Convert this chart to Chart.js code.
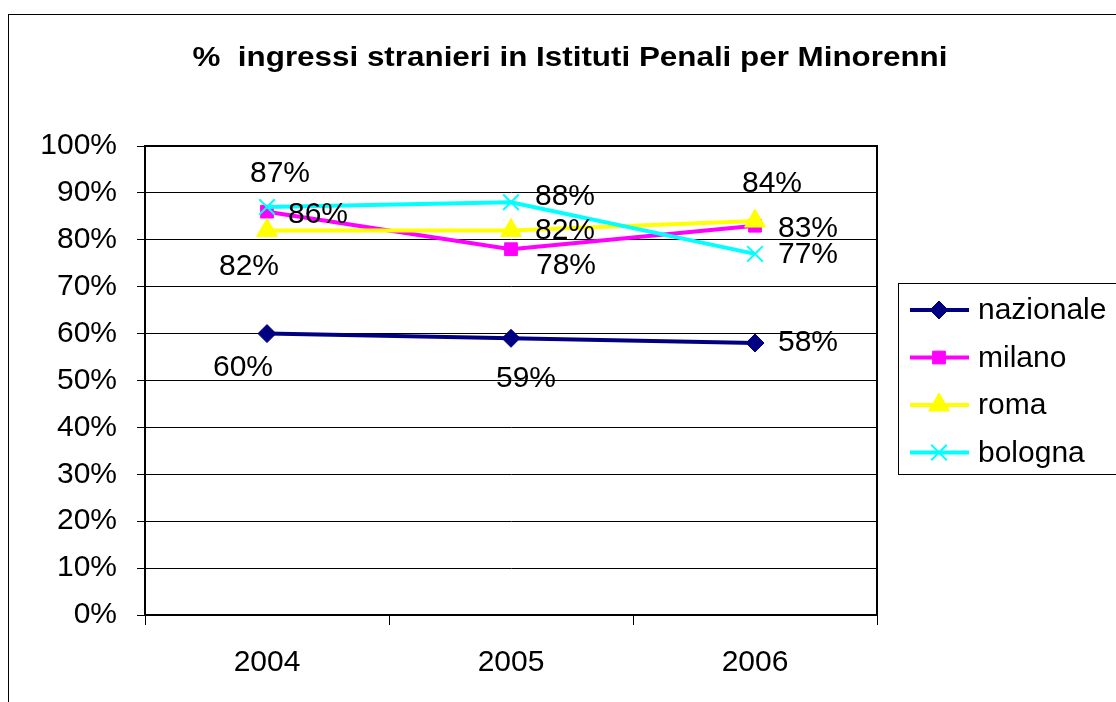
<!DOCTYPE html>
<html>
<head>
<meta charset="utf-8">
<script src="https://cdn.jsdelivr.net/npm/chart.js@4/dist/chart.umd.min.js"></script>
<style>
html, body { margin: 0; padding: 0; background: #fff; }
#wrap { width: 1116px; height: 702px; }
</style>
</head>
<body>
<div id="wrap"><canvas id="myChart" width="1116" height="702"></canvas></div>
<script>
// data
var years = ['2004', '2005', '2006'];
var nazionale = [60, 59, 58];
var milano = [86, 78, 83];
var roma = [82, 82, 84];
var bologna = [87, 88, 77];
var yTicks = [0, 10, 20, 30, 40, 50, 60, 70, 80, 90, 100];

var chartTitle = '%  ingressi stranieri in Istituti Penali per Minorenni';
var font = '"Liberation Sans", Arial, sans-serif';

// where each value label sits relative to its point (dx, dy in px)
var labelShift = {
  nazionale: [[-24, 34], [15, 40], [53, 0]],
  milano: [[51, 3], [55, 17], [53, 3]],
  roma: [[-18, 36], [54, 0], [17, -37]],
  bologna: [[13, -33], [54, -6], [53, 1]]
};

var series = [
  { label: 'nazionale', data: nazionale, color: '#000080', point: 'rectRot', r: 9, order: 4 },
  { label: 'milano', data: milano, color: '#FF00FF', point: 'rect', r: 9, order: 3 },
  { label: 'roma', data: roma, color: '#FFFF00', point: 'triangle', r: 12, order: 2 },
  { label: 'bologna', data: bologna, color: '#00FFFF', point: 'crossRot', r: 11, order: 1 }
];

var datasets = series.map(function (s) {
  return {
    label: s.label,
    data: s.data,
    borderColor: s.color,
    backgroundColor: s.color,
    borderWidth: 4,
    pointStyle: s.point,
    pointRadius: s.r,
    pointBorderWidth: s.point == 'crossRot' ? 2 : 1,
    pointBorderColor: s.color,
    pointBackgroundColor: s.color,
    tension: 0,
    order: s.order
  };
});

// frame, title, value labels and legend
var extras = {
  id: 'extras',
  beforeDraw: function (chart) {
    var ctx = chart.ctx;
    ctx.save();
    ctx.fillStyle = '#fff';
    ctx.fillRect(0, 0, chart.width, chart.height);
    ctx.strokeStyle = '#000';
    ctx.lineWidth = 1;
    ctx.strokeRect(8.5, 14.5, 1300, 900);
    ctx.restore();
  },
  afterDatasetsDraw: function (chart) {
    var ctx = chart.ctx;
    var a = chart.chartArea;
    ctx.save();
    ctx.strokeStyle = '#000';
    ctx.lineWidth = 2;
    ctx.strokeRect(a.left, a.top, a.right - a.left, a.bottom - a.top);

    // title is drawn a bit wider than normal, like the original
    ctx.font = 'bold 27px ' + font;
    ctx.fillStyle = '#000';
    ctx.textAlign = 'center';
    ctx.textBaseline = 'middle';
    var w = ctx.measureText(chartTitle).width;
    ctx.save();
    ctx.translate(570, 59);
    ctx.scale(755 / w, 1);
    ctx.fillText(chartTitle, 0, 0);
    ctx.restore();

    ctx.font = '30px ' + font;
    chart.data.datasets.forEach(function (ds, i) {
      var meta = chart.getDatasetMeta(i);
      var shift = labelShift[ds.label];
      meta.data.forEach(function (pt, j) {
        ctx.fillText(ds.data[j] + '%', pt.x + shift[j][0], pt.y + shift[j][1]);
      });
    });

    // legend
    var lx = 898, ly = 283, lh = 191;
    ctx.strokeStyle = '#000';
    ctx.lineWidth = 1;
    ctx.strokeRect(lx + 0.5, ly + 0.5, 400, lh);
    ctx.textAlign = 'left';
    ctx.font = '30px ' + font;
    series.forEach(function (s, i) {
      var y = 310 + i * 47.5;
      ctx.strokeStyle = s.color;
      ctx.lineWidth = 4;
      ctx.beginPath();
      ctx.moveTo(910, y);
      ctx.lineTo(969, y);
      ctx.stroke();
      ctx.fillStyle = s.color;
      ctx.lineWidth = s.point == 'crossRot' ? 2 : 1;
      Chart.helpers.drawPoint(ctx, { pointStyle: s.point, radius: s.r, rotation: 0, borderWidth: 1 }, 939, y);
      ctx.fillStyle = '#000';
      ctx.fillText(s.label, 978, y + 1);
    });
    ctx.restore();
  }
};

var chart = new Chart(document.getElementById('myChart').getContext('2d'), {
  type: 'line',
  data: { labels: years, datasets: datasets },
  options: {
    responsive: false,
    animation: false,
    devicePixelRatio: 1,
    layout: { padding: { left: 0, top: 146, right: 239, bottom: 0 } },
    plugins: { legend: { display: false }, title: { display: false }, tooltip: { enabled: false } },
    scales: {
      x: {
        offset: true,
        grid: { offset: true, drawOnChartArea: false, drawTicks: true, tickLength: 10, color: '#000', lineWidth: 1 },
        border: { display: true, color: '#000', width: 2 },
        ticks: { color: '#000', font: { family: font, size: 30 }, padding: 20 },
        afterFit: function (s) { s.height = 87; }
      },
      y: {
        min: 0,
        max: 100,
        afterBuildTicks: function (s) { s.ticks = yTicks.map(function (v) { return { value: v }; }); },
        grid: { color: '#000', lineWidth: 1, tickLength: 8 },
        border: { display: true, color: '#000', width: 2 },
        ticks: {
          color: '#000',
          font: { family: font, size: 30 },
          padding: 20,
          callback: function (v) { return v + '%'; }
        },
        afterFit: function (s) { s.width = 145; }
      }
    }
  },
  plugins: [extras]
});
</script>
</body>
</html>
